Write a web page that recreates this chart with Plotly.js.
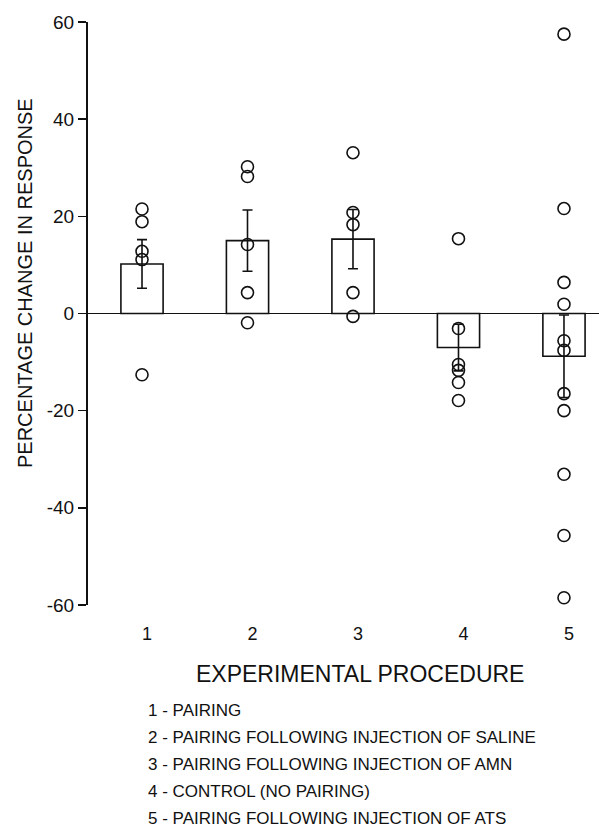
<!DOCTYPE html>
<html>
<head>
<meta charset="utf-8">
<script src="https://cdn.plot.ly/plotly-3.0.1.min.js"></script>
<style>
  html, body { margin: 0; padding: 0; background: #fff; }
  #chart { width: 599px; height: 830px; }
</style>
</head>
<body>
<div id="chart"></div>
<script>
// ---- data ----
const categories = [1, 2, 3, 4, 5];
const tickLabels = ['1', '2', '3', '4', '5'];
const means = [10.2, 15.0, 15.3, -7.0, -8.8];
const sems = [5.0, 6.3, 6.1, 4.8, 8.5];
const group1 = [21.5, 18.9, 12.8, 11.1, -12.6];
const group2 = [30.2, 28.2, 14.2, 4.3, -1.9];
const group3 = [33.1, 20.8, 18.3, 4.3, -0.6];
const group4 = [15.4, -3.1, -10.5, -11.7, -14.2, -17.9];
const group5 = [57.5, 21.6, 6.4, 1.9, -5.6, -7.6, -16.5, -20.0, -33.1, -45.7, -58.5];
const groups = [group1, group2, group3, group4, group5];
const yTicks = [-60, -40, -20, 0, 20, 40, 60];
const yTickLabels = ['-60', '-40', '-20', '0', '20', '40', '60'];
const yTitle = 'PERCENTAGE CHANGE IN RESPONSE';
const xTitle = 'EXPERIMENTAL PROCEDURE';
const legendLabels = [
  '1 - PAIRING',
  '2 - PAIRING FOLLOWING INJECTION OF SALINE',
  '3 - PAIRING FOLLOWING INJECTION OF AMN',
  '4 - CONTROL (NO PAIRING)',
  '5 - PAIRING FOLLOWING INJECTION OF ATS'
];

// ---- layout geometry ----
const W = 599, H = 830;
const M = {l: 88, r: 0, t: 22, b: 225};
const plotW = W - M.l - M.r, plotH = H - M.t - M.b;
const px2x = p => (p - M.l) / plotW;
const py2y = p => (H - M.b - p) / plotH;
const FONT = 'Liberation Sans, Arial, Helvetica, sans-serif';

const ptsX = [], ptsY = [];
groups.forEach((g, i) => g.forEach(v => { ptsX.push(categories[i]); ptsY.push(v); }));

const traces = [
  {
    type: 'bar',
    x: categories,
    y: means,
    width: 0.4,
    marker: {color: '#ffffff', line: {color: '#111', width: 1.6}},
    error_y: {type: 'data', array: sems, visible: true, color: '#111', thickness: 1.6, width: 5},
    hoverinfo: 'skip'
  },
  {
    type: 'scatter',
    mode: 'markers',
    x: ptsX,
    y: ptsY,
    marker: {symbol: 'circle-open', size: 12, color: '#111', line: {width: 1.6, color: '#111'}},
    hoverinfo: 'skip'
  }
];

const annotations = [
  {
    text: yTitle, textangle: -90, showarrow: false,
    xref: 'paper', yref: 'paper', x: px2x(25), y: py2y(283),
    xanchor: 'center', yanchor: 'middle',
    font: {family: FONT, size: 20, color: '#111'}
  },
  {
    text: xTitle, showarrow: false,
    xref: 'paper', yref: 'paper', x: px2x(360), y: py2y(674),
    xanchor: 'center', yanchor: 'middle',
    font: {family: FONT, size: 23, color: '#111'}
  }
];
const legendY = [710, 737, 764, 791, 818];
legendLabels.forEach((t, i) => annotations.push({
  text: t, showarrow: false,
  xref: 'paper', yref: 'paper', x: px2x(146), y: py2y(legendY[i]),
  xanchor: 'left', yanchor: 'middle',
  font: {family: FONT, size: 17, color: '#111'}
}));

const layout = {
  width: W, height: H,
  margin: M,
  paper_bgcolor: '#fff', plot_bgcolor: '#fff',
  showlegend: false,
  font: {family: FONT, color: '#111'},
  xaxis: {
    range: [0.488, 5.332],
    tickmode: 'array', tickvals: categories, ticktext: tickLabels,
    ticks: '', showline: false, showgrid: false, zeroline: false,
    tickfont: {family: FONT, size: 18, color: '#111'},
    ticklabelstandoff: 16, ticklabelshift: 5,
    fixedrange: true
  },
  yaxis: {
    range: [-60, 60],
    tickmode: 'array', tickvals: yTicks, ticktext: yTickLabels,
    ticks: 'outside', ticklen: 8, tickwidth: 1.6, tickcolor: '#111',
    showline: true, linecolor: '#111', linewidth: 2,
    showgrid: false,
    zeroline: true, zerolinecolor: '#111', zerolinewidth: 1.6,
    tickfont: {family: FONT, size: 19, color: '#111'},
    fixedrange: true
  },
  annotations: annotations
};

Plotly.newPlot('chart', traces, layout, {displayModeBar: false, staticPlot: true});
</script>
</body>
</html>
